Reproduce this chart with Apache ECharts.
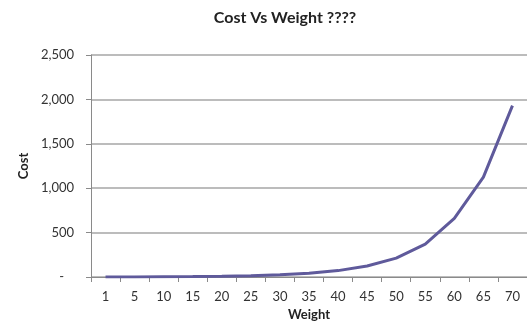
<!DOCTYPE html>
<html>
<head>
<meta charset="utf-8">
<style>
  html, body { margin: 0; padding: 0; background: #fff; }
  #chart { width: 527px; height: 328px; }
</style>
<script src="https://cdn.jsdelivr.net/npm/echarts@6/dist/echarts.min.js"></script>
</head>
<body>
<div id="chart"></div>
<script>
// x-axis points (weight)
const weights = ['1', '5', '10', '15', '20', '25', '30', '35', '40', '45', '50', '55', '60', '65', '70'];
// cost
const costs = [0.5, 1, 3, 5, 8, 14, 24, 42, 72, 124, 213, 371, 660, 1125, 1930];

const font = 'Lato, "Open Sans", sans-serif';
const chart = echarts.init(document.getElementById('chart'));

chart.setOption({
  backgroundColor: '#fff',
  animation: false,
  title: {
    text: 'Cost Vs Weight ????',
    left: 280,
    top: 5,
    textAlign: 'center',
    textStyle: { fontFamily: font, fontSize: 16, fontWeight: 'bold', color: '#222' }
  },
  grid: { left: 91, right: -4, top: 55, bottom: 51, containLabel: false },
  xAxis: {
    type: 'category',
    data: weights,
    boundaryGap: true,
    name: 'Weight',
    nameLocation: 'middle',
    nameGap: 31,
    nameTextStyle: { fontFamily: font, fontSize: 13, fontWeight: 'bold', color: '#222' },
    axisLine: { lineStyle: { color: '#8a8a8a', width: 1 } },
    axisTick: { show: true, alignWithLabel: false, length: 5, lineStyle: { color: '#8a8a8a' } },
    axisLabel: { fontFamily: font, fontSize: 13, color: '#333', margin: 13 }
  },
  yAxis: {
    type: 'value',
    min: 0,
    max: 2500,
    interval: 500,
    name: 'Cost',
    nameLocation: 'middle',
    nameGap: 57,
    nameRotate: 90,
    nameTextStyle: { fontFamily: font, fontSize: 13, fontWeight: 'bold', color: '#222' },
    axisLine: { show: true, lineStyle: { color: '#8a8a8a', width: 1 } },
    axisTick: { show: true, length: 5, lineStyle: { color: '#8a8a8a' } },
    axisLabel: {
      fontFamily: font, fontSize: 13, color: '#333', margin: 17,
      formatter: v => v === 0 ? '-   ' : v.toLocaleString('en-US')
    },
    splitLine: { show: true, lineStyle: { color: '#a6a6a6', width: 1.5 } }
  },
  series: [{
    name: 'Cost',
    type: 'line',
    data: costs,
    symbol: 'none',
    smooth: false,
    lineStyle: { color: '#5f5a9b', width: 3 }
  }]
});
</script>
</body>
</html>
